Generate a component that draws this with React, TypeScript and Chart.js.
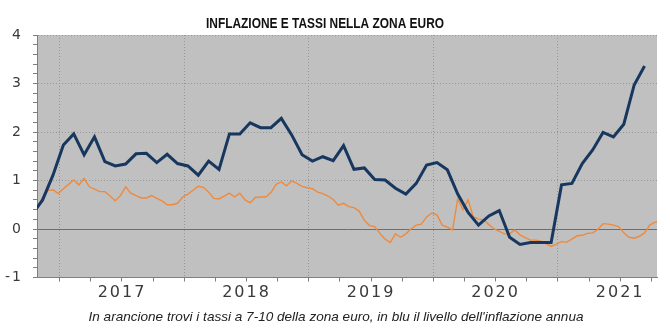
import React, { useEffect, useRef } from 'react';
import { Chart, registerables } from 'chart.js';

Chart.register(...registerables);

const TITLE = 'INFLAZIONE E TASSI NELLA ZONA EURO';
const FOOTNOTE = "In arancione trovi i tassi a 7-10 della zona euro, in blu il livello dell'inflazione annua";

// Year labels on the time axis
const YEARS = ['2017', '2018', '2019', '2020', '2021'];

// Monthly euro-area inflation, index 0 = Oct 2016 ... index 59 = Sep 2021
const INFLATION = [
  0.3, 0.6, 1.11, 1.73, 1.96, 1.53, 1.9, 1.39, 1.3, 1.34,
  1.55, 1.56, 1.37, 1.54, 1.35, 1.3, 1.11, 1.4, 1.23, 1.96,
  1.96, 2.19, 2.09, 2.09, 2.28, 1.94, 1.53, 1.4, 1.49, 1.41,
  1.72, 1.23, 1.26, 1.02, 1.01, 0.84, 0.72, 0.94, 1.32, 1.37,
  1.22, 0.72, 0.34, 0.08, 0.27, 0.38, -0.17, -0.32, -0.28, -0.28,
  -0.28, 0.91, 0.94, 1.35, 1.63, 1.99, 1.9, 2.16, 2.97, 3.36,
];

// 7-10y euro-area yields, sampled every half month starting at mid Oct 2016
const YIELDS = [
  0.44, 0.65, 0.79, 0.81, 0.73, 0.83, 0.92, 1.01, 0.91, 1.04,
  0.87, 0.82, 0.77, 0.77, 0.68, 0.58, 0.69, 0.87, 0.74, 0.69,
  0.64, 0.64, 0.69, 0.63, 0.58, 0.5, 0.5, 0.53, 0.66, 0.72,
  0.8, 0.88, 0.86, 0.76, 0.63, 0.62, 0.68, 0.74, 0.66, 0.74,
  0.6, 0.54, 0.65, 0.66, 0.66, 0.75, 0.92, 0.97, 0.89, 0.99,
  0.94, 0.88, 0.85, 0.83, 0.76, 0.73, 0.68, 0.61, 0.49, 0.53,
  0.46, 0.44, 0.37, 0.18, 0.07, 0.05, -0.09, -0.21, -0.28, -0.1,
  -0.17, -0.1, 0.0, 0.08, 0.1, 0.25, 0.33, 0.29, 0.08, 0.04,
  -0.02, 0.62, 0.4, 0.6, 0.25, 0.21, 0.19, 0.09, 0.0, -0.05,
  -0.1, -0.1, -0.02, -0.12, -0.18, -0.23, -0.23, -0.25, -0.3, -0.36,
  -0.31, -0.26, -0.27, -0.21, -0.14, -0.13, -0.09, -0.08, -0.01, 0.11,
  0.1, 0.08, 0.05, -0.08, -0.17, -0.19, -0.15, -0.08, 0.08, 0.14,
  0.15,
];

const Y_MIN = -1;
const Y_MAX = 4;
const X_MIN = 0.46;
const X_MAX = 60.2;
const YEAR_EDGE = 2.65; // month index of the first year boundary (start of 2017)

const BLUE = '#17375e';
const ORANGE = '#ee8a3e';
const PLOT_BG = '#c0c0c0';
const GRID = '#969696';
const AXIS = '#7f7f7f';
const TEXT = '#3a3a3a';
const SANS = "'Liberation Sans', Arial, sans-serif";

const quarterOf = (v: number) => Math.round((v - YEAR_EDGE) / 3);

// draw text centred at (cx, cy), squeezed horizontally to a given width
function drawFitted(ctx: CanvasRenderingContext2D, text: string, font: string, color: string, cx: number, cy: number, width: number) {
  ctx.save();
  ctx.letterSpacing = '0px';
  ctx.font = font;
  ctx.fillStyle = color;
  ctx.textAlign = 'center';
  ctx.textBaseline = 'middle';
  const w = ctx.measureText(text).width;
  const s = Math.min(1.2, width / w);
  ctx.translate(cx, cy);
  ctx.scale(s, 1);
  ctx.fillText(text, 0, 0);
  ctx.restore();
}

const decorPlugin = {
  id: 'decor',
  beforeDraw(chart: any) {
    const { ctx, chartArea } = chart;
    ctx.save();
    ctx.fillStyle = PLOT_BG;
    ctx.fillRect(chartArea.left, chartArea.top, chartArea.right - chartArea.left, chartArea.bottom - chartArea.top);
    ctx.restore();
    ctx.letterSpacing = '2px';
  },
  afterDraw(chart: any) {
    const { ctx } = chart;
    ctx.letterSpacing = '0px';
    drawFitted(ctx, TITLE, `bold 15px ${SANS}`, '#111', 325, 23.5, 238);
    drawFitted(ctx, FOOTNOTE, `italic 13.5px ${SANS}`, '#222', 336, 317, 495);
  },
};

export default function App() {
  const ref = useRef<HTMLCanvasElement | null>(null);

  useEffect(() => {
    if (!ref.current) return;
    const chart = new Chart(ref.current, {
      type: 'line',
      data: {
        datasets: [
          {
            label: 'Tassi 7-10',
            data: YIELDS.map((v, k) => ({ x: (k + 1) / 2, y: v })),
            borderColor: ORANGE,
            borderWidth: 1.4,
            pointRadius: 0,
            tension: 0,
            order: 2,
          },
          {
            label: 'Inflazione',
            data: INFLATION.map((v, i) => ({ x: i, y: v })),
            borderColor: BLUE,
            borderWidth: 3,
            pointRadius: 0,
            tension: 0,
            order: 1,
          },
        ],
      },
      options: {
        animation: false,
        responsive: false,
        devicePixelRatio: 1,
        layout: { padding: { top: 35, right: 13, bottom: 0, left: 0 } },
        plugins: {
          legend: { display: false },
          tooltip: { enabled: false },
        },
        scales: {
          x: {
            type: 'linear',
            min: X_MIN,
            max: X_MAX,
            afterBuildTicks: (scale: any) => {
              const t: any[] = [];
              for (let v = YEAR_EDGE; v <= X_MAX + 1e-9; v += 3) t.push({ value: v });
              scale.ticks = t;
            },
            afterFit: (scale: any) => {
              scale.height = 53.5;
            },
            ticks: {
              autoSkip: false,
              maxRotation: 0,
              padding: 2,
              color: TEXT,
              font: { family: "'DejaVu Sans', sans-serif", size: 16 },
              callback: (value: any) => {
                const q = quarterOf(Number(value));
                return q % 4 === 2 ? YEARS[(q - 2) / 4] ?? '' : '';
              },
            },
            grid: {
              color: (ctx: any) => (ctx.tick && quarterOf(ctx.tick.value) % 4 === 0 ? GRID : 'rgba(0,0,0,0)'),
              lineWidth: 1,
              tickColor: AXIS,
              tickLength: 4,
            },
            border: {
              display: true,
              color: AXIS,
              width: 1,
              dash: (ctx: any) => (ctx.tick ? [1, 2] : []),
            },
          },
          y: {
            type: 'linear',
            min: Y_MIN,
            max: Y_MAX,
            afterFit: (scale: any) => {
              scale.width = 37;
            },
            ticks: {
              stepSize: 0.2,
              autoSkip: false,
              padding: 10,
              color: TEXT,
              font: { family: "'DejaVu Sans', sans-serif", size: 14 },
              callback: (value: any) => {
                const v = Number(value);
                const r = Math.round(v);
                return Math.abs(v - r) < 1e-6 ? String(r) : '';
              },
            },
            grid: {
              color: (ctx: any) => {
                if (!ctx.tick) return 'rgba(0,0,0,0)';
                const v = ctx.tick.value;
                const r = Math.round(v);
                if (Math.abs(v - r) > 1e-6) return 'rgba(0,0,0,0)';
                return r === 0 ? '#6e6e6e' : GRID;
              },
              lineWidth: 1,
              tickColor: AXIS,
              tickLength: 4,
            },
            border: {
              display: true,
              color: AXIS,
              width: 1,
              dash: (ctx: any) => {
                if (!ctx.tick) return [];
                return Math.abs(ctx.tick.value) < 1e-6 ? [] : [1, 2];
              },
            },
          },
        },
      },
      plugins: [decorPlugin],
    });
    return () => chart.destroy();
  }, []);

  return (
    <div style={{ position: 'absolute', left: 0, top: 0, width: 670, height: 331, background: '#fff' }}>
      <canvas ref={ref} width={670} height={331} />
    </div>
  );
}
